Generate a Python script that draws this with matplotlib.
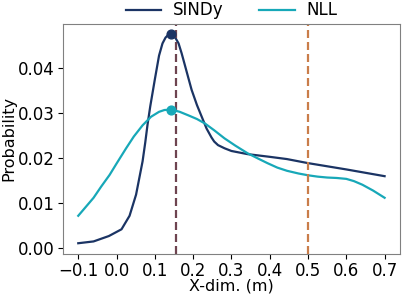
import matplotlib
matplotlib.use("Agg")
import matplotlib.pyplot as plt

sindy_x = [-0.10, -0.06, -0.02, 0.013, 0.034, 0.051, 0.068, 0.075, 0.081, 0.088,
           0.094, 0.100, 0.111, 0.120, 0.128, 0.135, 0.143, 0.152, 0.162, 0.170,
           0.179, 0.187, 0.196, 0.210, 0.222, 0.235, 0.248, 0.255, 0.265, 0.282,
           0.30, 0.342, 0.40, 0.445, 0.50, 0.60, 0.70]
sindy_y = [0.0011, 0.0015, 0.0027, 0.0042, 0.0072, 0.0119, 0.0193, 0.0235, 0.0275, 0.0315,
           0.0345, 0.0375, 0.0428, 0.0455, 0.0468, 0.0474, 0.0475, 0.0470, 0.0455, 0.0433,
           0.0405, 0.0380, 0.0352, 0.0318, 0.0293, 0.0266, 0.0246, 0.0237, 0.0229, 0.0222,
           0.0216, 0.0209, 0.0203, 0.0198, 0.0189, 0.0175, 0.0160]

nll_x = [-0.10, -0.08, -0.06, -0.04, -0.018, 0.0, 0.025, 0.045, 0.068, 0.09,
         0.111, 0.125, 0.143, 0.165, 0.188, 0.21, 0.231, 0.255, 0.282, 0.31,
         0.342, 0.37, 0.394, 0.42, 0.445, 0.475, 0.50, 0.525, 0.55, 0.575,
         0.60, 0.62, 0.642, 0.67, 0.70]
nll_y = [0.0072, 0.0092, 0.0112, 0.0137, 0.0163, 0.0188, 0.0222, 0.0248, 0.0273, 0.0292,
         0.0303, 0.0307, 0.0308, 0.0303, 0.0295, 0.0287, 0.0277, 0.0262, 0.0244, 0.0228,
         0.0211, 0.0199, 0.0189, 0.0179, 0.0172, 0.0166, 0.0162, 0.0159, 0.0157, 0.0156,
         0.0154, 0.0149, 0.0141, 0.0128, 0.0112]

peak_x = 0.143
ref_x1 = 0.155
ref_x2 = 0.50

c_sindy = "#1b3464"
c_nll = "#17a8b8"
c_ref1 = "#6e4450"
c_ref2 = "#c97d4a"

plt.rcParams['font.family'] = ['DejaVu Sans']
fs = 12
fig = plt.figure(figsize=(4.06, 2.96), dpi=100)
ax = fig.add_axes([0.155, 0.143, 0.830, 0.776])
ax.plot(sindy_x, sindy_y, color=c_sindy, lw=1.6, label="SINDy")
ax.plot(nll_x, nll_y, color=c_nll, lw=1.6, label="NLL")
ax.scatter([peak_x], [max(sindy_y)], color=c_sindy, s=40, zorder=5)
ax.scatter([peak_x], [max(nll_y)], color=c_nll, s=40, zorder=5)
ax.axvline(ref_x1, color=c_ref1, ls="--", lw=1.6, dashes=(3.6, 1.8))
ax.axvline(ref_x2, color=c_ref2, ls="--", lw=1.6, dashes=(3.6, 1.8))

ax.set_xticks([-0.1, 0.0, 0.1, 0.2, 0.3, 0.4, 0.5, 0.6, 0.7])
ax.set_yticks([0.00, 0.01, 0.02, 0.03, 0.04])
ax.tick_params(labelsize=fs, pad=2.5)
ax.set_xlabel("X-dim. (m)", fontsize=11.5, labelpad=-1)
ax.set_ylabel("Probability", fontsize=11.5, labelpad=1)
for s in ax.spines.values():
    s.set_color("#808080")
ax.legend(loc="lower center", bbox_to_anchor=(0.5, 1.02), ncol=2, frameon=False,
          fontsize=fs, handlelength=2.15, handletextpad=0.7, columnspacing=2.1,
          borderaxespad=0.0, borderpad=0.0)
fig.savefig("out.png", dpi=100)
